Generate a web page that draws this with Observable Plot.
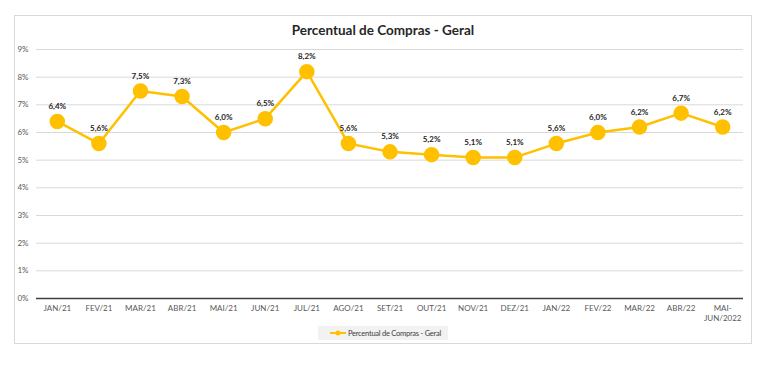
<!DOCTYPE html>
<html>
<head>
<meta charset="utf-8">
<script src="https://cdn.jsdelivr.net/npm/d3@7"></script>
<script src="https://cdn.jsdelivr.net/npm/@observablehq/plot@0.6"></script>
<style>
  html, body { margin: 0; padding: 0; background: #fff; }
  body { width: 762px; height: 373px; position: relative; overflow: hidden; font-family: Lato, "Open Sans", sans-serif; }
  #frame { position: absolute; left: 14px; top: 15px; width: 736px; height: 327px; border: 1px solid #d9d9d9; }
  #title { position: absolute; left: 14px; width: 738px; top: 22px; text-align: center; font-size: 13.5px; font-weight: bold; color: #262626; }
  #chart { position: absolute; left: 0; top: 0; }
  #legend { position: absolute; left: 318px; top: 326px; width: 130px; height: 14px; background: #f2f2f2; font-size: 7.5px; letter-spacing: -0.25px; color: #404040; display: flex; align-items: center; white-space: nowrap; }
  #legend svg { margin-left: 12px; margin-right: 2px; flex: none; }
</style>
</head>
<body>
<div id="frame"></div>
<div id="title">Percentual de Compras - Geral</div>
<div id="chart"></div>
<div id="legend"><svg width="16" height="8"><line x1="0" y1="4" x2="16" y2="4" stroke="#FFC000" stroke-width="2"/><circle cx="8" cy="4" r="2.5" fill="#FFC000"/></svg><span>Percentual de Compras - Geral</span></div>
<script>
const months = ["JAN/21","FEV/21","MAR/21","ABR/21","MAI/21","JUN/21","JUL/21","AGO/21","SET/21","OUT/21","NOV/21","DEZ/21","JAN/22","FEV/22","MAR/22","ABR/22","MAI-\nJUN/2022"];
const values = [6.4, 5.6, 7.5, 7.3, 6.0, 6.5, 8.2, 5.6, 5.3, 5.2, 5.1, 5.1, 5.6, 6.0, 6.2, 6.7, 6.2];
const yTicks = [0,1,2,3,4,5,6,7,8,9];

const data = months.map((m, i) => ({month: m, value: values[i] / 100}));
const color = "#FFC000";

const chart = Plot.plot({
  width: 762,
  height: 322,
  marginLeft: 36,
  marginRight: 19,
  marginTop: 49,
  marginBottom: 24,
  style: {fontFamily: "Lato, 'Open Sans', sans-serif", background: "transparent", overflow: "visible"},
  x: {type: "band", domain: months, padding: 0, round: false, label: null},
  y: {domain: [0, 0.09], label: null},
  marks: [
    Plot.ruleY(yTicks.slice(1).map(t => t / 100), {stroke: "#d9d9d9", strokeWidth: 1}),
    Plot.axisY(yTicks.map(t => t / 100), {tickSize: 0, tickPadding: 8, tickFormat: d => Math.round(d * 100) + "%", fontSize: 8, fill: "#595959"}),
    Plot.axisX({tickSize: 0, tickPadding: 6, fontSize: 8, fill: "#595959", lineHeight: 1.2}),
    Plot.ruleY([0], {stroke: "#404040", strokeWidth: 1.5}),
    Plot.line(data, {x: "month", y: "value", stroke: color, strokeWidth: 2.5}),
    Plot.dot(data, {x: "month", y: "value", r: 7, fill: color, stroke: color}),
    Plot.text(data, {x: "month", y: "value", text: d => (d.value * 100).toFixed(1).replace(".", ",") + "%", dy: -15, fontSize: 8, fontWeight: "bold", fill: "#262626"})
  ]
});
document.getElementById("chart").appendChild(chart);
</script>
</body>
</html>
